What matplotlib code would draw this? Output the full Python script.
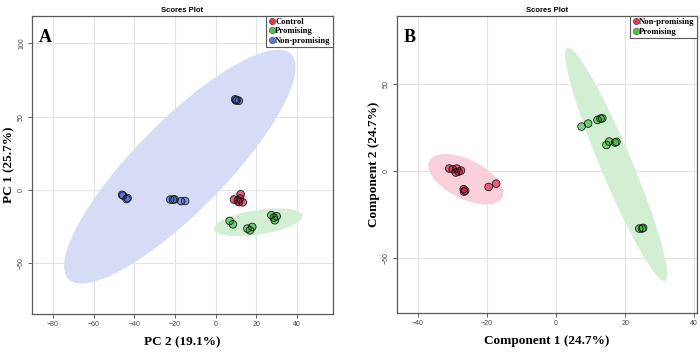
import numpy as np
import matplotlib
matplotlib.use("Agg")
import matplotlib.pyplot as plt
from matplotlib.patches import Ellipse
from matplotlib.lines import Line2D

# ---------------- data: panel A (PCA) ----------------
a_control_x = [12.3, 9.0, 10.9, 13.3, 11.4, 11.9]
a_control_y = [-2.9, -6.5, -7.0, -8.4, -8.2, -5.8]
a_prom_x = [6.9, 8.5, 15.6, 18.0, 16.9, 27.4, 30.0, 29.1, 28.6]
a_prom_y = [-21.1, -23.4, -26.3, -25.2, -27.5, -17.2, -17.9, -20.6, -18.8]
a_nonp_x = [9.6, 10.4, 11.4, 10.0, -46.0, -45.5, -43.3, -43.8, -22.3, -21.0, -20.2, -17.0, -15.0]
a_nonp_y = [61.8, 61.3, 60.8, 61.0, -3.3, -3.8, -5.5, -6.2, -6.5, -6.6, -6.4, -7.6, -7.5]
# ellipse: centre and covariance (Sxx, Syy, Sxy)
a_ell_control = (11.5, -6.3, 17.0, 26.0, 0.0)
a_ell_prom = (20.9, -22.0, 471.0, 90.0, 92.0)
a_ell_nonp = (-17.6, 15.9, 3238.0, 6352.0, 3850.0)
a_labels = ["Control", "Promising", "Non-promising"]

# ---------------- data: panel B (PLS-DA) ----------------
b_nonp_x = [-30.9, -29.9, -28.7, -28.2, -27.5, -29.0, -26.7, -26.6, -26.3, -19.5, -17.3]
b_nonp_y = [1.4, 1.0, 1.4, -0.4, 0.2, -0.9, -10.5, -11.9, -11.3, -9.2, -7.3]
b_prom_x = [7.4, 9.3, 12.0, 12.9, 13.4, 14.6, 15.4, 17.1, 17.5, 24.1, 24.9, 25.2]
b_prom_y = [25.5, 27.2, 29.3, 30.1, 30.2, 14.9, 16.9, 16.3, 16.7, -33.1, -33.1, -32.7]
b_ell_nonp = (-26.1, -4.75, 118.0, 210.0, -85.0)
b_ell_prom = (17.4, 3.85, 219.0, 4496.0, -935.0)
b_labels = ["Non-promising", "Promising"]

a_xticks = [-80, -60, -40, -20, 0, 20, 40]
a_yticks = [-50, 0, 50, 100]
b_xticks = [-40, -20, 0, 20, 40]
b_yticks = [-50, 0, 50]

RED = "#DC143C"
GREEN = "#2EB82E"
BLUE = "#3F5FD0"
RED_E = "#F9CFDA"
GREEN_E = "#D3EFD3"
BLUE_E = "#D6DCF6"

SERIF = ["Liberation Serif", "DejaVu Serif"]
SANS = ["Liberation Sans", "DejaVu Sans"]

fig = plt.figure(figsize=(7.0, 3.52), dpi=100)


def add_ellipse(ax, params, color):
    cx, cy, sxx, syy, sxy = params
    cov = np.array([[sxx, sxy], [sxy, syy]])
    vals, vecs = np.linalg.eigh(cov)
    order = vals.argsort()[::-1]
    vals, vecs = vals[order], vecs[:, order]
    ang = np.degrees(np.arctan2(vecs[1, 0], vecs[0, 0]))
    e = Ellipse((cx, cy), 2 * np.sqrt(vals[0]), 2 * np.sqrt(vals[1]), angle=ang,
                facecolor=color, edgecolor="none", zorder=1)
    ax.add_patch(e)


def style_axes(ax, xlim, ylim, xt, yt):
    ax.set_xlim(*xlim)
    ax.set_ylim(*ylim)
    ax.set_xticks(xt)
    ax.set_yticks(yt)
    ax.grid(True, color="#E3E3E3", lw=0.8, zorder=0)
    ax.set_axisbelow(True)
    for s in ax.spines.values():
        s.set_color("#5A5A5A")
        s.set_linewidth(0.9)
    ax.tick_params(axis="both", labelsize=5, colors="#444444", length=3, width=0.6, pad=2)
    for lab in ax.get_xticklabels() + ax.get_yticklabels():
        lab.set_family(SANS)
    for lab in ax.get_yticklabels():
        lab.set_rotation(90)
        lab.set_va("center")


def scatter(ax, x, y, c):
    ax.scatter(x, y, s=30, facecolor=c, alpha=0.6, edgecolor="none", zorder=3)
    ax.scatter(x, y, s=30, facecolor="none", edgecolor="#1a1a1a", linewidth=0.6, zorder=4)


def legend(ax, labels, colors):
    handles = [Line2D([0], [0], marker="o", linestyle="none", markersize=4.6,
                      markerfacecolor=c, markeredgecolor="#333333", markeredgewidth=0.4,
                      alpha=0.85) for c in colors]
    leg = ax.legend(handles, labels, loc="upper right", borderaxespad=0.0,
                    handletextpad=0.0, handlelength=0.8, borderpad=0.25,
                    labelspacing=0.15, fancybox=False, framealpha=1.0,
                    prop={"family": SERIF, "weight": "bold", "size": 6.2})
    leg.get_frame().set_edgecolor("#5A5A5A")
    leg.get_frame().set_linewidth(0.8)


# ---------------- panel A ----------------
axA = fig.add_axes([0.0457, 0.108, 0.430, 0.8466])
add_ellipse(axA, a_ell_nonp, BLUE_E)
add_ellipse(axA, a_ell_prom, GREEN_E)
add_ellipse(axA, a_ell_control, RED_E)
scatter(axA, a_nonp_x, a_nonp_y, BLUE)
scatter(axA, a_prom_x, a_prom_y, GREEN)
scatter(axA, a_control_x, a_control_y, RED)
style_axes(axA, (-90.3, 57.7), (-84.5, 118.6), a_xticks, a_yticks)
legend(axA, a_labels, [RED, GREEN, BLUE])
axA.set_xlabel("PC 2 (19.1%)", family=SERIF, weight="bold", fontsize=9.5, labelpad=6)
axA.set_ylabel("PC 1 (25.7%)", family=SERIF, weight="bold", fontsize=9.5, labelpad=2)
axA.set_title("Scores Plot", family=SANS, weight="bold", fontsize=5.5, pad=3)
axA.text(0.022, 0.955, "A", transform=axA.transAxes, family=SERIF, weight="bold",
         fontsize=13, va="top", ha="left")

# ---------------- panel B ----------------
axB = fig.add_axes([0.5667, 0.1108, 0.4290, 0.8437])
add_ellipse(axB, b_ell_nonp, RED_E)
add_ellipse(axB, b_ell_prom, GREEN_E)
scatter(axB, b_nonp_x, b_nonp_y, RED)
scatter(axB, b_prom_x, b_prom_y, GREEN)
style_axes(axB, (-46.1, 40.8), (-81.6, 89.0), b_xticks, b_yticks)
legend(axB, b_labels, [RED, GREEN])
axB.set_xlabel("Component 1 (24.7%)", family=SERIF, weight="bold", fontsize=9.5, labelpad=6)
axB.set_ylabel("Component 2 (24.7%)", family=SERIF, weight="bold", fontsize=9.5, labelpad=2)
axB.set_title("Scores Plot", family=SANS, weight="bold", fontsize=5.5, pad=3)
axB.text(0.022, 0.955, "B", transform=axB.transAxes, family=SERIF, weight="bold",
         fontsize=13, va="top", ha="left")

fig.savefig("out.png", dpi=100)
